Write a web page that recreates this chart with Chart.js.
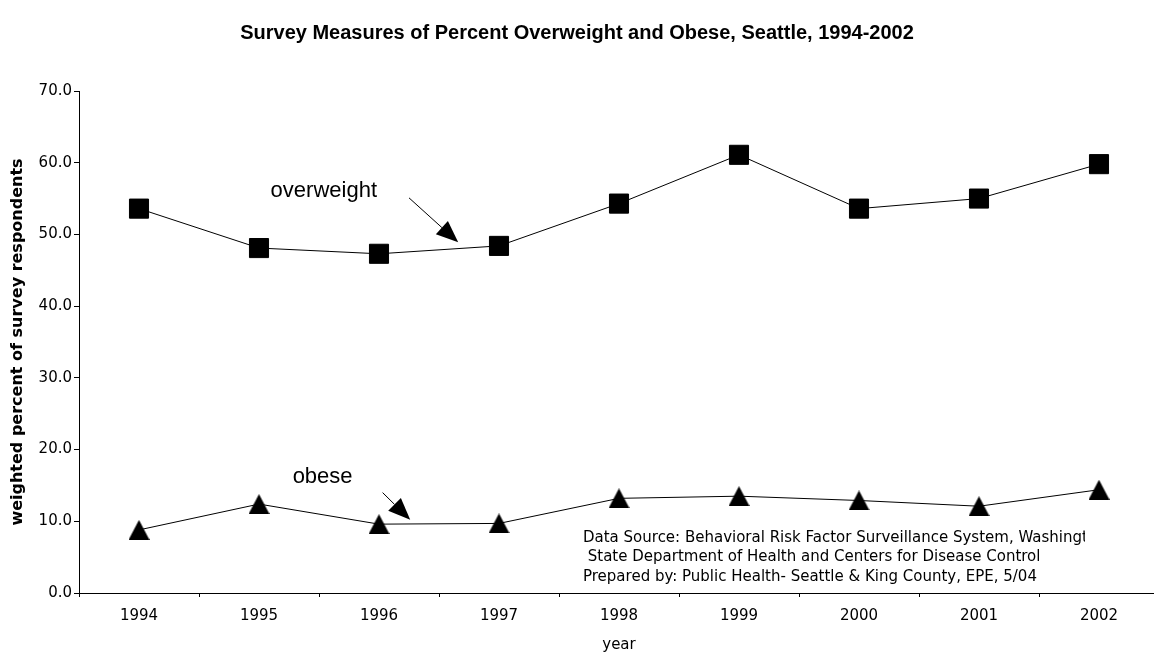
<!DOCTYPE html>
<html>
<head>
<meta charset="utf-8">
<script src="https://cdn.jsdelivr.net/npm/chart.js@4/dist/chart.umd.min.js"></script>
<style>
  html, body { margin: 0; padding: 0; background: #fff; }
  #wrap { width: 1154px; height: 654px; }
</style>
</head>
<body>
<div id="wrap"><canvas id="c" width="1154" height="654"></canvas></div>
<script>
// ---- data ----
const years      = ['1994','1995','1996','1997','1998','1999','2000','2001','2002'];
const overweight = [53.6, 48.1, 47.3, 48.4, 54.3, 61.1, 53.6, 55.0, 59.8];
const obese      = [8.8, 12.4, 9.6, 9.7, 13.2, 13.5, 12.9, 12.1, 14.4];
const yTicks     = [0, 10, 20, 30, 40, 50, 60, 70];

const sourceLines = [
  'Data Source: Behavioral Risk Factor Surveillance System, Washington',
  ' State Department of Health and Centers for Disease Control',
  'Prepared by: Public Health- Seattle & King County, EPE, 5/04'
];

// triangle marker centred on its bounding box (like Excel's)
function triMarker(w, h) {
  const c = document.createElement('canvas');
  c.width = w; c.height = h;
  const g = c.getContext('2d');
  g.fillStyle = '#000';
  g.beginPath();
  g.moveTo(w / 2, 0);
  g.lineTo(w, h);
  g.lineTo(0, h);
  g.closePath();
  g.fill();
  return c;
}

function arrow(ctx, x1, y1, x2, y2) {
  const a = Math.atan2(y2 - y1, x2 - x1);
  const len = 22, half = 9;
  const bx = x2 - Math.cos(a) * len, by = y2 - Math.sin(a) * len;
  ctx.beginPath();
  ctx.moveTo(x1, y1);
  ctx.lineTo(bx, by);
  ctx.stroke();
  ctx.beginPath();
  ctx.moveTo(x2, y2);
  ctx.lineTo(bx + Math.sin(a) * half, by - Math.cos(a) * half);
  ctx.lineTo(bx - Math.sin(a) * half, by + Math.cos(a) * half);
  ctx.closePath();
  ctx.fill();
}

// the original plot runs a few px past the right edge of the picture
const widenX = {
  id: 'widenX',
  afterLayout(chart) {
    const x = chart.scales.x;
    x.right = x.left + 1080;
    x.width = 1080;
    x.configure();
  }
};

// labels, arrows and source note, placed in data space
const notes = {
  id: 'notes',
  afterDatasetsDraw(chart) {
    const { ctx, scales: { x, y }, chartArea } = chart;
    ctx.save();
    ctx.fillStyle = '#000';
    ctx.strokeStyle = '#000';
    ctx.lineWidth = 1;
    ctx.font = '22px "Liberation Sans", Arial, sans-serif';
    ctx.textAlign = 'center';
    ctx.textBaseline = 'middle';
    ctx.fillText('overweight', x.getPixelForValue(1.54), y.getPixelForValue(56.0));
    ctx.fillText('obese', x.getPixelForValue(1.53), y.getPixelForValue(16.2));

    arrow(ctx, x.getPixelForValue(2.25), y.getPixelForValue(55.1),
               x.getPixelForValue(2.66), y.getPixelForValue(48.9));
    arrow(ctx, x.getPixelForValue(2.03), y.getPixelForValue(14.0),
               x.getPixelForValue(2.26), y.getPixelForValue(10.2));

    // source box is clipped at its right edge in the original
    ctx.beginPath();
    ctx.rect(chartArea.left, chartArea.top, 1085 - chartArea.left, chartArea.bottom - chartArea.top);
    ctx.clip();
    ctx.font = '15px "DejaVu Sans", Verdana, sans-serif';
    ctx.textAlign = 'left';
    const sx = x.getPixelForValue(3.7);
    [7.7, 5.0, 2.2].forEach((v, i) => {
      ctx.fillText(sourceLines[i], sx, y.getPixelForValue(v));
    });
    ctx.restore();
  }
};

new Chart(document.getElementById('c'), {
  type: 'line',
  data: {
    labels: years,
    datasets: [
      {
        label: 'overweight',
        data: overweight,
        borderColor: '#000',
        borderWidth: 1,
        backgroundColor: '#000',
        pointStyle: 'rect',
        pointRadius: 13.5,
        pointBorderWidth: 1,
        tension: 0
      },
      {
        label: 'obese',
        data: obese,
        borderColor: '#000',
        borderWidth: 1,
        backgroundColor: '#000',
        pointStyle: triMarker(21, 20),
        pointRadius: 10,
        tension: 0
      }
    ]
  },
  options: {
    responsive: false,
    animation: false,
    layout: { autoPadding: false, padding: { left: 0, right: 0, top: 0, bottom: 0 } },
    plugins: {
      legend: { display: false },
      tooltip: { enabled: false },
      title: {
        display: true,
        text: 'Survey Measures of Percent Overweight and Obese, Seattle, 1994-2002',
        color: '#000',
        font: { family: '"Liberation Sans", Arial, sans-serif', size: 20, weight: 'bold', lineHeight: 1.2 },
        padding: { top: 21, bottom: 46 }
      }
    },
    scales: {
      x: {
        offset: true,
        grid: { display: true, offset: true, drawOnChartArea: false, drawTicks: true, tickLength: 4, color: '#000' },
        border: { display: true, color: '#000', width: 1 },
        ticks: { color: '#000', padding: 10, font: { family: '"DejaVu Sans", Verdana, sans-serif', size: 15 } },
        title: {
          display: true, text: 'year', color: '#000',
          font: { family: '"DejaVu Sans", Verdana, sans-serif', size: 15 },
          padding: { top: 0, bottom: 0 }
        },
        afterFit(s) { s.height = 61; s.paddingLeft = 0; s.paddingRight = 0; }
      },
      y: {
        min: 0, max: 70,
        afterBuildTicks(s) { s.ticks = yTicks.map(v => ({ value: v })); },
        grid: { display: true, drawOnChartArea: false, drawTicks: true, tickLength: 5, color: '#000' },
        border: { display: true, color: '#000', width: 1 },
        ticks: {
          color: '#000', padding: 2,
          font: { family: '"DejaVu Sans", Verdana, sans-serif', size: 15 },
          callback: v => v.toFixed(1)
        },
        title: {
          display: true, text: 'weighted percent of survey respondents', color: '#000',
          font: { family: '"DejaVu Sans", Verdana, sans-serif', size: 16, weight: 'bold' },
          padding: { top: 8, bottom: 0 }
        },
        afterFit(s) { s.width = 79; }
      }
    }
  },
  plugins: [widenX, notes]
});
</script>
</body>
</html>
